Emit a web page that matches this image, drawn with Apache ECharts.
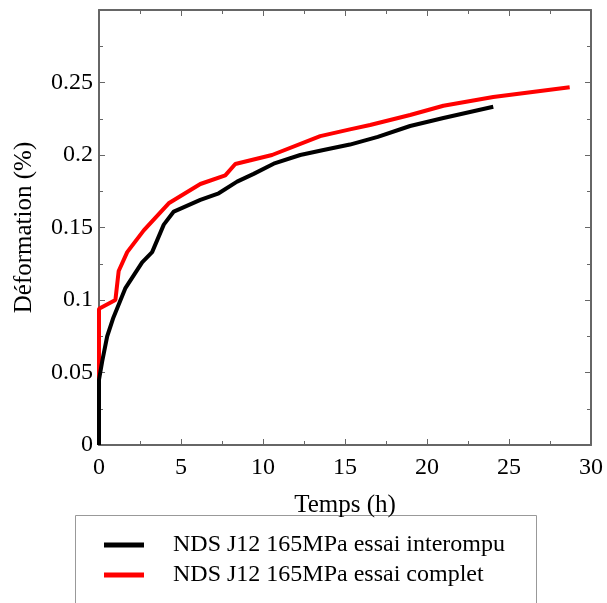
<!DOCTYPE html>
<html><head><meta charset="utf-8">
<script src="https://cdn.jsdelivr.net/npm/echarts@6/dist/echarts.min.js"></script>
<style>html,body{margin:0;padding:0;background:#fff}#c{width:607px;height:603px}</style>
</head><body><div id="c"></div>
<script>
var seriesNames = ['NDS J12 165MPa essai interompu', 'NDS J12 165MPa essai complet'];
var blackT = [0, 0, 0.2, 0.5, 0.88, 1.6, 2.63, 3.24, 3.95, 4.56, 6.18, 7.3, 8.42, 9.43, 10.65, 12.27, 13.69, 15.3, 17.0, 18.97, 21.0, 24.04];
var blackV = [0, 0.045, 0.058, 0.075, 0.088, 0.108, 0.126, 0.133, 0.152, 0.161, 0.169, 0.1736, 0.1816, 0.187, 0.194, 0.2, 0.2034, 0.2072, 0.2125, 0.22, 0.2255, 0.2333];
var redT = [0, 0, 1.0, 1.2, 1.72, 2.73, 4.25, 6.18, 7.7, 8.31, 10.55, 13.49, 15.3, 16.53, 18.97, 21.0, 24.04, 28.7];
var redV = [0, 0.094, 0.1, 0.12, 0.133, 0.148, 0.1667, 0.18, 0.186, 0.1938, 0.2, 0.213, 0.2177, 0.2207, 0.2276, 0.234, 0.24, 0.2467];
var xTicks = [0, 5, 10, 15, 20, 25, 30];
var yTicks = [0, 0.05, 0.1, 0.15, 0.2, 0.25];

function pairs(t, v) { return t.map(function (x, i) { return [x, v[i]]; }); }

var font = 'Liberation Serif';
var axisCol = '#666';
function xa(pos, show) {
  return {
    type: 'value', position: pos, min: 0, max: 30, interval: 5,
    axisLine: { show: true, onZero: false, lineStyle: { color: axisCol, width: 2 } },
    axisTick: { show: true, inside: true, length: 6, lineStyle: { color: axisCol, width: 1 } },
    minorTick: { show: true, splitNumber: 2, length: 4, lineStyle: { color: axisCol, width: 1 } },
    axisLabel: { show: show, color: '#000', fontFamily: font, fontSize: 24, margin: 11,
      formatter: function (v) { return xTicks.indexOf(v) >= 0 ? String(v) : ''; } },
    splitLine: { show: false },
    name: show ? 'Temps (h)' : '', nameLocation: 'middle', nameGap: 48,
    nameTextStyle: { color: '#000', fontFamily: font, fontSize: 25 }
  };
}
function ya(pos, show) {
  return {
    type: 'value', position: pos, min: 0, max: 0.3, interval: 0.05,
    axisLine: { show: true, onZero: false, lineStyle: { color: axisCol, width: 2 } },
    axisTick: { show: true, inside: true, length: 6, lineStyle: { color: axisCol, width: 1 } },
    minorTick: { show: true, splitNumber: 2, length: 4, lineStyle: { color: axisCol, width: 1 } },
    axisLabel: { show: show, color: '#000', fontFamily: font, fontSize: 24, margin: 6,
      formatter: function (v) { var r = Math.round(v * 100) / 100; return yTicks.indexOf(r) >= 0 ? String(r) : ''; } },
    splitLine: { show: false },
    name: show ? 'Déformation (%)' : '', nameLocation: 'middle', nameGap: 62, nameRotate: 90,
    nameTextStyle: { color: '#000', fontFamily: font, fontSize: 25 }
  };
}

var chart = echarts.init(document.getElementById('c'), null, { renderer: 'canvas' });
chart.setOption({
  animation: false,
  backgroundColor: '#fff',
  grid: { left: 99, top: 10, right: 16, bottom: 158, containLabel: false, outerBoundsMode: 'none' },
  xAxis: [xa('bottom', true), xa('top', false)],
  yAxis: [ya('left', true), ya('right', false)],
  legend: {
    orient: 'vertical', left: 99, top: 528, itemWidth: 40, itemHeight: 5, itemGap: 6,
    icon: 'rect',
    textStyle: { color: '#000', fontFamily: font, fontSize: 24, padding: [0, 0, 0, 24] },
    data: seriesNames
  },
  graphic: [{ type: 'rect', shape: { x: 75.5, y: 515.5, width: 461, height: 120 },
    style: { fill: 'none', stroke: '#999', lineWidth: 1 }, z: 0 }],
  series: [
    { name: seriesNames[0], type: 'line', data: pairs(blackT, blackV), showSymbol: false, symbol: 'none',
      lineStyle: { color: '#000', width: 4 }, itemStyle: { color: '#000' }, z: 3 },
    { name: seriesNames[1], type: 'line', data: pairs(redT, redV), showSymbol: false, symbol: 'none',
      lineStyle: { color: '#ff0000', width: 4 }, itemStyle: { color: '#ff0000' }, z: 2 }
  ]
});
</script></body></html>
